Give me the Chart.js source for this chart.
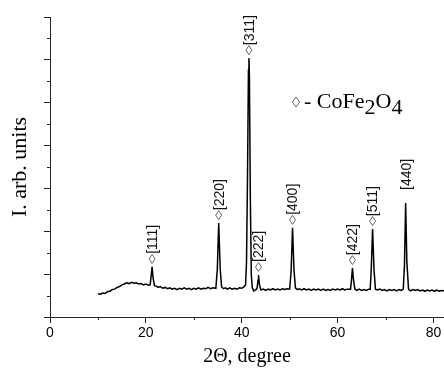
<!DOCTYPE html>
<html>
<head>
<meta charset="utf-8">
<script src="https://cdn.jsdelivr.net/npm/chart.js@4.4.0/dist/chart.umd.min.js"></script>
<style>
  html, body { margin: 0; padding: 0; background: #fff; }
</style>
</head>
<body>
<canvas id="xrd" width="444" height="374"></canvas>
<script>
// XRD pattern, CoFe2O4
const twoTheta = [
  10.0, 10.5, 11.0, 11.5, 12.0, 12.5, 13.0, 13.5, 14.0, 14.5, 15.0, 15.5, 16.0, 16.5, 17.0, 17.5,
  18.0, 18.5, 19.0, 19.5, 20.0, 20.5, 20.9, 21.1, 21.3, 21.5, 21.8, 22.2, 22.6, 23.0, 23.5, 24.0,
  24.5, 25.0, 25.5, 26.0, 26.5, 27.0, 27.5, 28.0, 28.5, 29.0, 29.5, 30.0, 30.5, 31.0, 31.5, 32.0,
  32.5, 33.0, 33.5, 34.0, 34.6, 34.9, 35.2, 35.5, 35.8, 36.2, 36.6, 37.0, 37.5, 38.0, 38.5, 39.0,
  39.5, 40.0, 40.5, 40.8, 41.0, 41.2, 41.4, 41.5, 41.6, 41.8, 42.0, 42.2, 42.5, 43.0, 43.2, 43.4,
  43.5, 43.7, 44.0, 44.5, 45.0, 45.5, 46.0, 46.5, 47.0, 47.5, 48.0, 48.5, 49.0, 49.5, 50.0, 50.3,
  50.6, 50.9, 51.2, 51.6, 52.0, 52.5, 53.0, 53.5, 54.0, 54.5, 55.0, 55.5, 56.0, 56.5, 57.0, 57.5,
  58.0, 58.5, 59.0, 59.5, 60.0, 60.5, 61.0, 61.5, 62.0, 62.7, 62.9, 63.1, 63.3, 63.6, 64.0, 64.5,
  65.0, 65.5, 66.0, 66.5, 66.8, 67.0, 67.3, 67.6, 67.9, 68.3, 68.8, 69.3, 69.8, 70.3, 70.8, 71.3,
  71.8, 72.3, 72.8, 73.3, 73.7, 73.95, 74.2, 74.45, 74.8, 75.2, 75.7, 76.2, 76.7, 77.2, 77.7, 78.2,
  78.7, 79.2, 79.7, 80.2, 80.7, 81.2, 81.7, 82.2
];
const intensity = [
  54, 53, 56, 55, 59, 60, 64, 65, 69, 71, 75, 77, 80, 78, 81, 79,
  80, 77, 78, 75, 77, 74, 75, 96, 117, 91, 73, 72, 69, 71, 67, 69,
  66, 68, 65, 67, 64, 67, 65, 68, 65, 67, 64, 67, 65, 68, 65, 67,
  66, 69, 66, 68, 67, 110, 219, 114, 70, 66, 68, 65, 68, 65, 67, 65,
  68, 67, 71, 75, 128, 320, 576, 604, 565, 273, 98, 68, 61, 64, 67, 86,
  98, 75, 63, 65, 62, 65, 63, 66, 63, 65, 63, 66, 64, 66, 65, 105,
  208, 110, 68, 64, 66, 63, 66, 63, 65, 62, 65, 63, 65, 62, 65, 62,
  64, 62, 65, 63, 65, 63, 66, 63, 65, 65, 86, 114, 89, 65, 62, 65,
  62, 64, 62, 65, 65, 105, 205, 110, 65, 63, 65, 62, 64, 61, 64, 62,
  64, 61, 64, 62, 65, 121, 266, 128, 65, 61, 64, 62, 64, 61, 63, 60,
  63, 61, 63, 60, 63, 60, 62, 61
];

// reflections
const peakTheta = [21.3, 35.2, 41.5, 43.5, 50.6, 63.1, 67.3, 74.2];
const peakTop = [117, 219, 604, 98, 208, 114, 205, 266];
const peakHkl = ['[111]', '[220]', '[311]', '[222]', '[400]', '[422]', '[511]', '[440]'];
const peakMarked = [true, true, true, true, true, true, true, false];

// axes
const xTicks = [0, 20, 40, 60, 80];
const xMinor = [10, 30, 50, 70];
const yTicks = [0, 100, 200, 300, 400, 500, 600, 700];
const yMinor = [50, 150, 250, 350, 450, 550, 650];

const axisColor = '#222';

function diamond(ctx, cx, cy, hw, hh) {
  ctx.beginPath();
  ctx.moveTo(cx, cy - hh);
  ctx.lineTo(cx + hw, cy);
  ctx.lineTo(cx, cy + hh);
  ctx.lineTo(cx - hw, cy);
  ctx.closePath();
  ctx.stroke();
}

const decorations = {
  id: 'decorations',
  afterDraw(chart) {
    const ctx = chart.ctx;
    const xs = chart.scales.x, ys = chart.scales.y;
    ctx.save();

    // minor ticks
    ctx.strokeStyle = axisColor;
    ctx.lineWidth = 1;
    xMinor.forEach(v => {
      const px = Math.round(xs.getPixelForValue(v)) + 0.5;
      ctx.beginPath();
      ctx.moveTo(px, xs.top);
      ctx.lineTo(px, xs.top + 3);
      ctx.stroke();
    });
    yMinor.forEach(v => {
      const py = Math.round(ys.getPixelForValue(v)) + 0.5;
      ctx.beginPath();
      ctx.moveTo(ys.right, py);
      ctx.lineTo(ys.right - 3, py);
      ctx.stroke();
    });

    // peak markers + labels
    ctx.font = '14px "Liberation Sans", Arial, sans-serif';
    for (let i = 0; i < peakTheta.length; i++) {
      const px = xs.getPixelForValue(peakTheta[i]);
      const py = ys.getPixelForValue(peakTop[i]);
      if (peakMarked[i]) {
        ctx.strokeStyle = '#666';
        diamond(ctx, px, py - 8, 3, 4.5);
      }
      ctx.save();
      ctx.translate(px, py - 13);
      ctx.rotate(-Math.PI / 2);
      ctx.fillStyle = '#111';
      ctx.textAlign = 'left';
      ctx.textBaseline = 'middle';
      ctx.fillText(peakHkl[i], 0, 1);
      ctx.restore();
    }

    // legend
    ctx.strokeStyle = '#666';
    diamond(ctx, 296, 102, 3.5, 5);
    ctx.fillStyle = '#000';
    ctx.font = '22px "Liberation Serif", "Times New Roman", serif';
    ctx.textBaseline = 'alphabetic';
    ctx.textAlign = 'left';
    let tx = 304;
    const parts = [['- CoFe', 0], ['2', 6], ['O', 0], ['4', 6]];
    parts.forEach(p => {
      ctx.fillText(p[0], tx, 108 + p[1]);
      tx += ctx.measureText(p[0]).width;
    });

    ctx.restore();
  }
};

const points = twoTheta.map((t, i) => ({ x: t, y: intensity[i] }));

new Chart(document.getElementById('xrd'), {
  type: 'line',
  data: {
    datasets: [{
      data: points,
      borderColor: '#000',
      borderWidth: 1.5,
      pointRadius: 0,
      tension: 0
    }]
  },
  options: {
    responsive: false,
    animation: false,
    devicePixelRatio: 1,
    layout: { padding: { top: 17, right: 0, left: 0, bottom: 0 } },
    plugins: { legend: { display: false }, tooltip: { enabled: false } },
    scales: {
      x: {
        type: 'linear',
        min: 0,
        max: 82.2,
        afterBuildTicks: s => { s.ticks = xTicks.map(v => ({ value: v })); },
        afterFit: s => { s.height = 57; },
        grid: { drawOnChartArea: false, tickLength: 6, color: axisColor },
        border: { color: axisColor, width: 1 },
        ticks: {
          color: '#000',
          padding: 2,
          maxRotation: 0,
          font: { family: '"Liberation Sans", Arial, sans-serif', size: 14 }
        },
        title: {
          display: true,
          text: '2Θ, degree',
          color: '#000',
          padding: { top: 0, bottom: 5 },
          font: { family: '"Liberation Serif", "Times New Roman", serif', size: 20 }
        }
      },
      y: {
        min: 0,
        max: 700,
        afterBuildTicks: s => { s.ticks = yTicks.map(v => ({ value: v })); },
        afterFit: s => { s.width = 50; },
        grid: { drawOnChartArea: false, tickLength: 6, color: axisColor },
        border: { color: axisColor, width: 1 },
        ticks: { callback: () => '', padding: 0 },
        title: {
          display: true,
          text: 'I. arb. units',
          color: '#000',
          padding: { top: 7, bottom: 0 },
          font: { family: '"Liberation Serif", "Times New Roman", serif', size: 22 }
        }
      }
    }
  },
  plugins: [decorations]
});
</script>
</body>
</html>
